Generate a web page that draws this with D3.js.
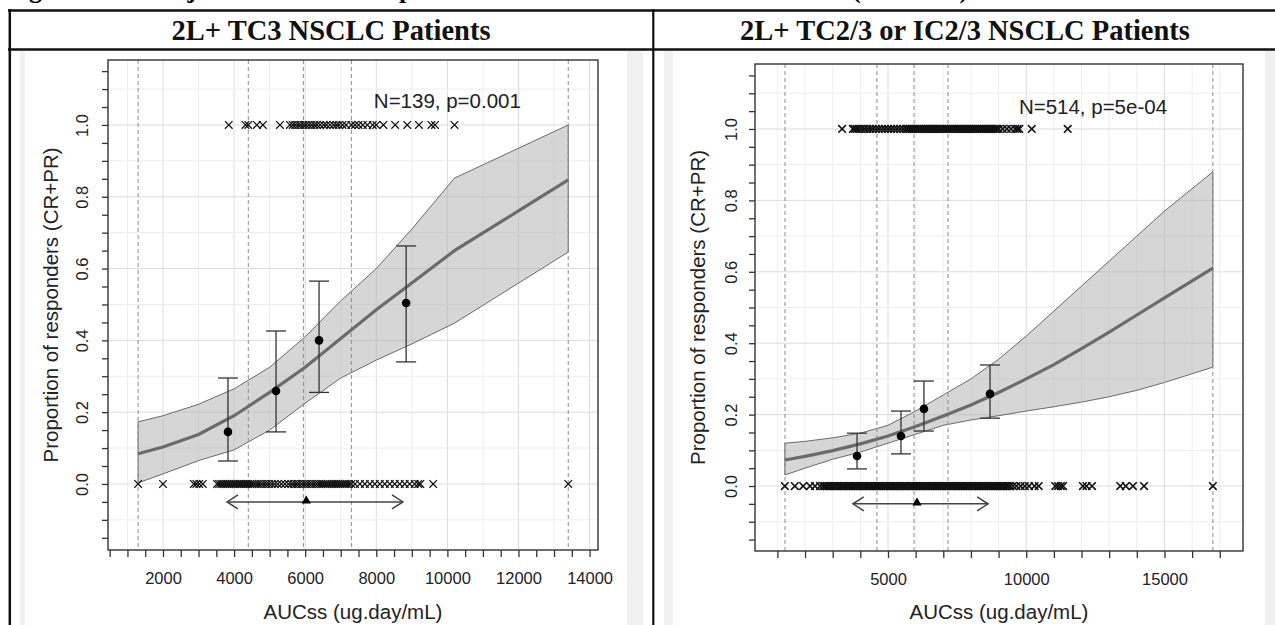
<!DOCTYPE html>
<html>
<head>
<meta charset="utf-8">
<script src="https://cdn.jsdelivr.net/npm/d3@7"></script>
<style>
  body { margin: 0; background: #fff; }
  svg { display: block; }
</style>
</head>
<body>
<div id="chart"></div>
<script>
// ---------------- data ----------------
const figTitle = "Figure 14: Unadjusted Rates of Response versus AUCss for the Two Subsets (Cohort 1)"
const panelTitles = ["2L+ TC3 NSCLC Patients", "2L+ TC2/3 or IC2/3 NSCLC Patients"]
const statLabels = ["N=139, p=0.001", "N=514, p=5e-04"]
const yLabel = "Proportion of responders (CR+PR)"
const xLabel = "AUCss (ug.day/mL)"
const yTickLabels = [0.0, 0.2, 0.4, 0.6, 0.8, 1.0]

// left panel: 2L+ TC3
const leftXTicks = [2000, 4000, 6000, 8000, 10000, 12000, 14000]
const leftQuartiles = [1300, 4400, 5950, 7300, 13400]
const leftFitX = [1300, 2000, 3000, 4000, 5000, 6000, 7000, 8000, 9000, 10200, 13400]
const leftFit = [0.084, 0.103, 0.138, 0.19, 0.255, 0.325, 0.405, 0.485, 0.56, 0.65, 0.847]
const leftLower = [0.003, 0.028, 0.065, 0.095, 0.15, 0.225, 0.295, 0.345, 0.39, 0.448, 0.646]
const leftUpper = [0.173, 0.19, 0.222, 0.265, 0.325, 0.41, 0.51, 0.60, 0.71, 0.852, 1.0]
const leftBinX = [3828, 5180, 6390, 8840]
const leftBinP = [0.145, 0.259, 0.40, 0.504]
const leftBinLo = [0.064, 0.145, 0.255, 0.34]
const leftBinHi = [0.295, 0.426, 0.565, 0.663]
const leftArrow = [3800, 6030, 8750]
const leftResp = [3850, 4320, 4400, 4640, 4810, 5290, 5570, 5650, 5720, 5800, 5870, 5950, 6020, 6100,
  6180, 6260, 6330, 6420, 6520, 6600, 6700, 6800, 6880, 6950, 7050, 7150, 7300, 7400, 7500, 7620,
  7750, 7900, 8000, 8200, 8530, 8870, 9200, 9550, 9650, 10200]
const leftNonResp = [1300, 2000, 2870, 2940, 3020, 3120, 3520, 3580, 3640, 3700, 3760, 3810, 3870, 3930,
  3990, 4040, 4100, 4160, 4210, 4270, 4330, 4390, 4450, 4510, 4570, 4640, 4700, 4770, 4840, 4910,
  4980, 5060, 5140, 5230, 5330, 5430, 5530, 5610, 5680, 5750, 5820, 5900, 5970, 6040, 6110, 6180,
  6250, 6320, 6390, 6450, 6510, 6570, 6630, 6690, 6750, 6810, 6870, 6930, 6990, 7050, 7110, 7170,
  7230, 7300, 7400, 7540, 7680, 7820, 7960, 8100, 8240, 8380, 8520, 8660, 8800, 8940, 9080, 9180,
  9240, 9600, 13400]

// right panel: 2L+ TC2/3 or IC2/3
const rightXTicks = [5000, 10000, 15000]
const rightQuartiles = [1275, 4600, 5940, 7170, 16750]
const rightFitX = [1270, 2000, 3000, 4000, 5000, 6000, 7000, 8000, 9000, 10000, 11000, 12000, 13000, 14000, 15000, 16750]
const rightFit = [0.073, 0.083, 0.099, 0.118, 0.14, 0.167, 0.196, 0.227, 0.262, 0.3, 0.34, 0.385, 0.431, 0.479, 0.527, 0.61]
const rightLower = [0.031, 0.05, 0.075, 0.095, 0.12, 0.145, 0.17, 0.185, 0.197, 0.21, 0.222, 0.235, 0.25, 0.268, 0.29, 0.333]
const rightUpper = [0.12, 0.125, 0.135, 0.148, 0.17, 0.21, 0.255, 0.30, 0.355, 0.42, 0.49, 0.56, 0.63, 0.70, 0.77, 0.88]
const rightBinX = [3880, 5470, 6300, 8690]
const rightBinP = [0.084, 0.14, 0.216, 0.258]
const rightBinLo = [0.048, 0.09, 0.154, 0.19]
const rightBinHi = [0.148, 0.21, 0.294, 0.339]
const rightArrow = [3730, 6050, 8620]
const rightResp = [3340, 3730, 3800, 3870, 3950, 4050, 4150, 4250, 4350, 4450, 4560, 4670, 4780, 4890,
  5000, 5110, 5220, 5330, 5440, 5550, 5650, 5720, 5790, 5860, 5930, 6000, 6070, 6140, 6210, 6280,
  6350, 6420, 6490, 6560, 6630, 6700, 6770, 6840, 6910, 6980, 7050, 7120, 7190, 7260, 7330, 7400,
  7470, 7540, 7610, 7680, 7750, 7820, 7890, 7960, 8030, 8100, 8170, 8240, 8310, 8380, 8450, 8520,
  8590, 8660, 8730, 8800, 8870, 8940, 9010, 9150, 9300, 9450, 9600, 9680, 9750, 10200, 11500]
const rightNonResp = [1270, 1630, 1930, 2180, 2360, 2540, 2650, 2710, 2780, 2840, 2900, 2970, 3030, 3100,
  3160, 3220, 3290, 3350, 3410, 3480, 3540, 3600, 3670, 3730, 3790, 3860, 3920, 3980, 4050, 4110,
  4170, 4240, 4300, 4360, 4430, 4490, 4550, 4620, 4680, 4740, 4810, 4870, 4930, 5000, 5060, 5120,
  5190, 5250, 5310, 5380, 5440, 5500, 5570, 5630, 5690, 5760, 5820, 5880, 5950, 6010, 6070, 6140,
  6200, 6260, 6330, 6390, 6450, 6520, 6580, 6640, 6710, 6770, 6830, 6900, 6960, 7020, 7090, 7150,
  7210, 7280, 7340, 7400, 7470, 7530, 7590, 7660, 7720, 7780, 7850, 7910, 7970, 8040, 8100, 8160,
  8230, 8290, 8350, 8420, 8480, 8540, 8610, 8670, 8730, 8800, 8860, 8920, 8990, 9050, 9110, 9180,
  9240, 9300, 9370, 9410, 9520, 9650, 9800, 9950, 10100, 10300, 10450, 11050, 11150, 11250, 11330,
  12050, 12180, 12380, 13400, 13600, 13860, 14260, 16750]

// ----------------------------------------------------------

const W = 1275, H = 625
const svg = d3.select("#chart").append("svg")
    .attr("width", W).attr("height", H)

const sans = "'Liberation Sans', Arial, Helvetica, sans-serif"
const serif = "'Liberation Serif', 'Times New Roman', serif"

const panels = [
    {
        title: panelTitles[0], stat: statLabels[0], statAt: [10000, 1.047],
        outer: [20, 643], inner: [25, 627],
        box: { left: 108, right: 598, top: 60, bottom: 550 },
        xDomain: [453, 14237], yDomain: [-0.184, 1.181],
        xTicks: leftXTicks, xMinor: 500, xMinorMax: 14000, gridMajor: 2000, gridMax: 14000,
        tickLabelOff: -20, markStroke: 1.25,
        quart: leftQuartiles, fitX: leftFitX, fit: leftFit, lo: leftLower, hi: leftUpper,
        binX: leftBinX, binP: leftBinP, binLo: leftBinLo, binHi: leftBinHi,
        arrow: leftArrow, resp: leftResp, nonResp: leftNonResp,
        headerCx: 331
    },
    {
        title: panelTitles[1], stat: statLabels[1], statAt: [12414, 1.042],
        outer: [664, 1275], inner: [673, 1265],
        box: { left: 755, right: 1243, top: 64, bottom: 551 },
        xDomain: [190, 17840], yDomain: [-0.182, 1.182],
        xTicks: rightXTicks, xMinor: 1000, xMinorMax: 17000, gridMajor: 5000, gridMax: 17000,
        tickLabelOff: -18, markStroke: 1.6,
        quart: rightQuartiles, fitX: rightFitX, fit: rightFit, lo: rightLower, hi: rightUpper,
        binX: rightBinX, binP: rightBinP, binLo: rightBinLo, binHi: rightBinHi,
        arrow: rightArrow, resp: rightResp, nonResp: rightNonResp,
        headerCx: 965
    }
]

panels.forEach(drawPanel)

// table rules and headers
const table = svg.append('g').attr('id', 'table')
// figure caption sits mostly above the crop, as in the source page
table.append('text')
    .attr('x', 6).attr('y', -2)
    .attr('font-family', serif).attr('font-weight', 'bold').attr('font-size', 26)
    .text(figTitle)
table.append('line').attr('x1', 8).attr('x2', W).attr('y1', 10.5).attr('y2', 10.5)
    .attr('stroke', '#111').attr('stroke-width', 2.5)
table.append('line').attr('x1', 8).attr('x2', W).attr('y1', 49.5).attr('y2', 49.5)
    .attr('stroke', '#111').attr('stroke-width', 2.5)
table.append('line').attr('x1', 9.8).attr('x2', 9.8).attr('y1', 9).attr('y2', H)
    .attr('stroke', '#111').attr('stroke-width', 2.5)
table.append('line').attr('x1', 653.3).attr('x2', 653.3).attr('y1', 9).attr('y2', H)
    .attr('stroke', '#111').attr('stroke-width', 2.2)
panels.forEach(p => {
    table.append('text')
        .attr('x', p.headerCx).attr('y', 40)
        .attr('text-anchor', 'middle')
        .attr('font-family', serif).attr('font-weight', 'bold').attr('font-size', 28.5)
        .attr('fill', '#111')
        .text(p.title)
})

function drawPanel(p) {
    const b = p.box
    const x = d3.scaleLinear().domain(p.xDomain).range([b.left, b.right])
    const y = d3.scaleLinear().domain(p.yDomain).range([b.bottom, b.top])
    const g = svg.append('g')

    // light grey frame of the embedded plot image
    g.append('rect').attr('x', p.outer[0]).attr('y', 51)
        .attr('width', p.outer[1] - p.outer[0]).attr('height', H - 51).attr('fill', '#f0f0f0')
    g.append('rect').attr('x', p.inner[0]).attr('y', 51)
        .attr('width', p.inner[1] - p.inner[0]).attr('height', H - 51).attr('fill', '#fff')

    // grid
    const gx = d3.range(1000, p.gridMax + 1, 1000)
    g.selectAll(null).data(gx).enter().append('line')
        .attr('x1', d => x(d)).attr('x2', d => x(d))
        .attr('y1', b.top).attr('y2', b.bottom)
        .attr('stroke', d => d % p.gridMajor == 0 ? '#dcdcdc' : '#ededed')
        .attr('stroke-width', 1)
    const gy = d3.range(-1, 12).map(d => d / 10)
    g.selectAll(null).data(gy).enter().append('line')
        .attr('x1', b.left).attr('x2', b.right)
        .attr('y1', d => y(d)).attr('y2', d => y(d))
        .attr('stroke', d => Math.round(d * 10) % 2 == 0 ? '#dcdcdc' : '#ededed')
        .attr('stroke-width', 1)

    // confidence band + fitted curve
    const pts = p.fitX.map((v, i) => ({ x: v, f: p.fit[i], lo: p.lo[i], hi: p.hi[i] }))
    g.append('path').datum(pts)
        .attr('d', d3.area().x(d => x(d.x)).y0(d => y(d.lo)).y1(d => y(d.hi)))
        .attr('fill', '#b4b4b4').attr('fill-opacity', 0.55)
        .attr('stroke', '#6a6a6a').attr('stroke-width', 1)

    // quartile / range lines
    g.selectAll(null).data(p.quart).enter().append('line')
        .attr('x1', d => x(d)).attr('x2', d => x(d))
        .attr('y1', b.top).attr('y2', b.bottom)
        .attr('stroke', '#8c8c8c').attr('stroke-width', 1)
        .attr('stroke-dasharray', '4,3')

    g.append('path').datum(pts)
        .attr('d', d3.line().x(d => x(d.x)).y(d => y(d.f)))
        .attr('fill', 'none').attr('stroke', '#6b6b6b').attr('stroke-width', 3.2)

    // binned observed proportions with CI
    const bins = p.binX.map((v, i) => ({ x: v, p: p.binP[i], lo: p.binLo[i], hi: p.binHi[i] }))
    const eb = g.selectAll(null).data(bins).enter().append('g')
    eb.append('line').attr('x1', d => x(d.x)).attr('x2', d => x(d.x))
        .attr('y1', d => y(d.lo)).attr('y2', d => y(d.hi))
        .attr('stroke', '#333').attr('stroke-width', 1.3)
    eb.append('line').attr('x1', d => x(d.x) - 10).attr('x2', d => x(d.x) + 10)
        .attr('y1', d => y(d.lo)).attr('y2', d => y(d.lo))
        .attr('stroke', '#333').attr('stroke-width', 1.3)
    eb.append('line').attr('x1', d => x(d.x) - 10).attr('x2', d => x(d.x) + 10)
        .attr('y1', d => y(d.hi)).attr('y2', d => y(d.hi))
        .attr('stroke', '#333').attr('stroke-width', 1.3)
    eb.append('circle').attr('cx', d => x(d.x)).attr('cy', d => y(d.p))
        .attr('r', 4.3).attr('fill', '#000')

    // individual subjects: responders at 1, non-responders at 0
    const cross = "M-3.8,-3.8L3.8,3.8M-3.8,3.8L3.8,-3.8"
    const subj = p.resp.map(v => ({ x: v, r: 1 })).concat(p.nonResp.map(v => ({ x: v, r: 0 })))
    g.selectAll(null).data(subj).enter().append('path')
        .attr('d', cross)
        .attr('transform', d => `translate(${x(d.x)},${y(d.r)})`)
        .attr('fill', 'none').attr('stroke', '#111').attr('stroke-width', p.markStroke)

    // exposure range arrow with median triangle
    const ay = y(-0.05), a0 = x(p.arrow[0]), a1 = x(p.arrow[2])
    g.append('line').attr('x1', a0).attr('x2', a1).attr('y1', ay).attr('y2', ay)
        .attr('stroke', '#444').attr('stroke-width', 1.5)
    g.append('path')
        .attr('d', `M${a0 + 11},${ay - 7}L${a0},${ay}L${a0 + 11},${ay + 7}M${a1 - 11},${ay - 7}L${a1},${ay}L${a1 - 11},${ay + 7}`)
        .attr('fill', 'none').attr('stroke', '#444').attr('stroke-width', 1.5)
    g.append('path')
        .attr('d', d3.symbol(d3.symbolTriangle, 38)())
        .attr('transform', `translate(${x(p.arrow[1])},${ay - 1})`)
        .attr('fill', '#000')

    // stat annotation
    g.append('text')
        .attr('x', x(p.statAt[0])).attr('y', y(p.statAt[1]))
        .attr('text-anchor', 'middle')
        .attr('font-family', sans).attr('font-size', 20.5).attr('fill', '#222')
        .text(p.stat)

    // axes
    const xAxis = d3.axisBottom(x)
        .tickValues(d3.range(p.xMinor, p.xMinorMax + 1, p.xMinor))
        .tickSize(7).tickSizeOuter(0)
        .tickFormat(d => p.xTicks.includes(d) ? d : '')
    const xa = g.append('g').attr('transform', `translate(0,${b.bottom})`).call(xAxis)
    xa.select('.domain').remove()
    xa.selectAll('.tick line').attr('stroke', '#333').attr('stroke-width', 1.3)
    xa.selectAll('.tick text').attr('y', 22)
        .attr('font-family', sans).attr('font-size', 16.5).attr('fill', '#222')

    const yAxis = d3.axisLeft(y)
        .tickValues(d3.range(-3, 24).map(d => d / 20))
        .tickSize(6).tickSizeOuter(0)
        .tickFormat(d => {
            const hit = yTickLabels.find(t => Math.abs(t - d) < 1e-9)
            return hit === undefined ? '' : hit.toFixed(1)
        })
    const ya = g.append('g').attr('transform', `translate(${b.left},0)`).call(yAxis)
    ya.select('.domain').remove()
    ya.selectAll('.tick line').attr('stroke', '#333').attr('stroke-width', 1.3)
    ya.selectAll('.tick text')
        .attr('transform', 'rotate(-90)')
        .attr('x', 0).attr('y', p.tickLabelOff).attr('dy', 0)
        .attr('text-anchor', 'middle')
        .attr('font-family', sans).attr('font-size', 16.5).attr('fill', '#222')

    // axis titles
    g.append('text')
        .attr('x', (b.left + b.right) / 2).attr('y', 619)
        .attr('text-anchor', 'middle')
        .attr('font-family', sans).attr('font-size', 20.5).attr('fill', '#222')
        .text(xLabel)
    g.append('text')
        .attr('transform', `translate(${b.left - 50},${(b.top + b.bottom) / 2}) rotate(-90)`)
        .attr('text-anchor', 'middle')
        .attr('font-family', sans).attr('font-size', 20.5).attr('fill', '#222')
        .text(yLabel)

    // plot box
    g.append('rect')
        .attr('x', b.left).attr('y', b.top)
        .attr('width', b.right - b.left).attr('height', b.bottom - b.top)
        .attr('fill', 'none').attr('stroke', '#333').attr('stroke-width', 1.4)
}
</script>
</body>
</html>
